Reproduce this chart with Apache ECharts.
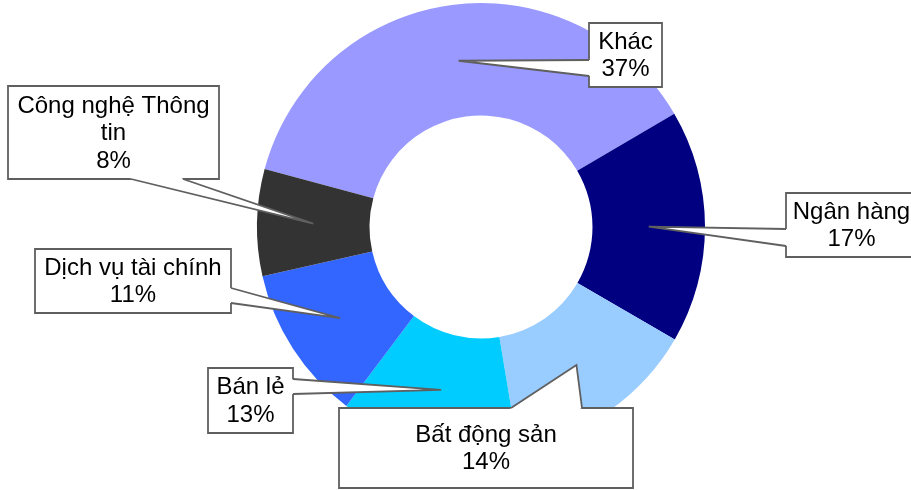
<!DOCTYPE html>
<html>
<head>
<meta charset="utf-8">
<script src="https://cdn.jsdelivr.net/npm/echarts@6/dist/echarts.min.js"></script>
<style>
    html, body { margin: 0; padding: 0; background: #fff; }
    #main { width: 911px; height: 490px; }
</style>
</head>
<body>
<div id="main"></div>
<script>
// số liệu
var categories = ['Khác', 'Ngân hàng', 'Bất động sản', 'Bán lẻ', 'Dịch vụ tài chính', 'Công nghệ Thông tin'];
var values = [37.4, 16.8, 14.0, 12.9, 11.2, 7.7];
var colors = ['#9999ff', '#000080', '#99ccff', '#00ccff', '#3366ff', '#333333'];

// vị trí hộp nhãn [x, y, w, h] và chân mũi nhọn
var boxes = [
    [589, 23, 73, 64],
    [786, 193, 131, 64],
    [339, 408, 294, 80],
    [208, 368, 85, 65],
    [35, 249, 196, 64],
    [8, 86, 211, 93]
];
var bases = [
    [[589, 60], [589, 76]],
    [[786, 229], [786, 246]],
    [[511, 408], [582, 408]],
    [[293, 379], [293, 394]],
    [[231, 288], [231, 303]],
    [[131, 179], [183, 179]]
];

var cx = 481, cy = 227, r0 = 111.5, r1 = 224, startAngle = 165;
var lineColor = '#5f5f5f';
var font = '24px "Liberation Sans", Arial, sans-serif';

var total = values.reduce(function (a, b) { return a + b; }, 0);

var ctx = document.createElement('canvas').getContext('2d');
ctx.font = font;

// ngắt dòng theo bề rộng hộp
function wrapText(str, maxW) {
    var words = str.split(' ');
    var lines = [];
    var cur = '';
    words.forEach(function (w) {
        var test = cur ? cur + ' ' + w : w;
        if (cur && ctx.measureText(test).width > maxW) {
            lines.push(cur);
            cur = w;
        } else {
            cur = test;
        }
    });
    if (cur) lines.push(cur);
    return lines.join('\n');
}

function tipPoint(i) {
    var before = 0;
    for (var k = 0; k < i; k++) before += values[k];
    var mid = startAngle - (before + values[i] / 2) / total * 360;
    var rad = mid * Math.PI / 180;
    var r = (r0 + r1) / 2;
    return [cx + r * Math.cos(rad), cy - r * Math.sin(rad)];
}

function inward(p, b) {
    var mx = b[0] + b[2] / 2, my = b[1] + b[3] / 2;
    var dx = mx - p[0], dy = my - p[1];
    var len = Math.sqrt(dx * dx + dy * dy) || 1;
    return [p[0] + dx / len * 2.5, p[1] + dy / len * 2.5];
}

function renderCallout(params, api) {
    var i = params.dataIndex;
    var b = boxes[i];
    var a = bases[i][0], c = bases[i][1];
    var tip = tipPoint(i);
    var pct = Math.round(values[i] / total * 100) + '%';
    return {
        type: 'group',
        children: [
            {
                type: 'rect',
                shape: { x: b[0], y: b[1], width: b[2], height: b[3] },
                style: { fill: '#fff', stroke: lineColor, lineWidth: 1.8 }
            },
            {
                type: 'polygon',
                shape: { points: [a, tip, c, inward(c, b), inward(a, b)] },
                style: { fill: '#fff', stroke: null }
            },
            {
                type: 'polyline',
                shape: { points: [a, tip, c] },
                style: { fill: null, stroke: lineColor, lineWidth: 1.8 }
            },
            {
                type: 'text',
                style: {
                    text: wrapText(categories[i], b[2] - 10) + '\n' + pct,
                    x: b[0] + b[2] / 2,
                    y: b[1] + b[3] / 2 + 1,
                    align: 'center',
                    verticalAlign: 'middle',
                    font: font,
                    lineHeight: 27.5,
                    fill: '#000'
                }
            }
        ]
    };
}

var pieData = categories.map(function (name, i) {
    return { name: name, value: values[i], itemStyle: { color: colors[i] } };
});

var myChart = echarts.init(document.getElementById('main'));
var option = {
    animation: false,
    backgroundColor: '#fff',
    series: [
        {
            type: 'pie',
            center: [cx, cy],
            radius: [r0, r1],
            startAngle: startAngle,
            clockwise: true,
            label: { show: false },
            labelLine: { show: false },
            emphasis: { disabled: true },
            itemStyle: { borderWidth: 0 },
            data: pieData,
            z: 2
        },
        {
            type: 'custom',
            coordinateSystem: 'none',
            renderItem: renderCallout,
            data: categories.map(function (n, i) { return i; }),
            silent: true,
            z: 5
        }
    ]
};
myChart.setOption(option);
</script>
</body>
</html>
